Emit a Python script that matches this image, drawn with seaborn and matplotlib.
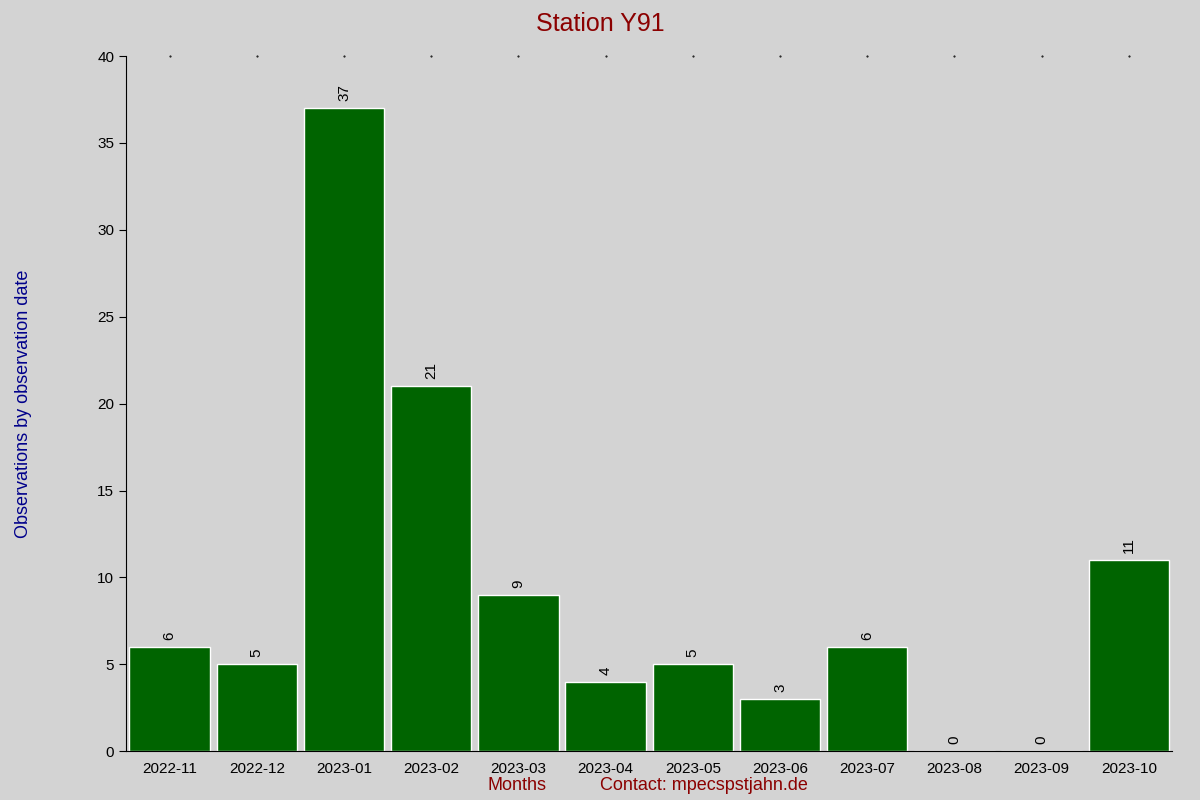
import matplotlib
matplotlib.use("Agg")
import matplotlib.pyplot as plt
import seaborn as sns
import pandas as pd

months = ["2022-11","2022-12","2023-01","2023-02","2023-03","2023-04","2023-05","2023-06","2023-07","2023-08","2023-09","2023-10"]
counts = [6,5,37,21,9,4,5,3,6,0,0,11]

sns.set_style("ticks")
plt.rcParams['font.family'] = ['Liberation Sans', 'DejaVu Sans']

fig = plt.figure(figsize=(12, 8), dpi=100, facecolor="#d3d3d3")
ax = fig.add_axes([0.105, 0.061, 0.872, 0.869])
ax.set_facecolor("#d3d3d3")
df = pd.DataFrame({"m": months, "c": counts})
sns.barplot(data=df, x="m", y="c", color="#006400", width=0.92, saturation=1, ax=ax)
ax.set_xlim(-0.5, len(months) - 0.5)
ax.set_ylim(0, 40)
ax.set_yticks(range(0, 41, 5))
for i, v in enumerate(counts):
    ax.text(i, v + 0.4, str(v), rotation=90, ha="center", va="bottom", fontsize=11, color="black")
for s in ["top", "right"]:
    ax.spines[s].set_visible(False)
ax.spines["left"].set_color("black")
ax.spines["bottom"].set_color("black")
ax.tick_params(axis="both", labelsize=11, colors="black", length=5, direction="out")
ax.tick_params(axis="x", length=0, pad=8)
ax.set_xlabel("")
ax.set_ylabel("Observations by observation date", color="#00008b", fontsize=13, labelpad=85)
ax.yaxis.set_label_coords(-0.09, 0.5)
fig.text(0.5, 0.97, "Station Y91", ha="center", va="center", color="#8b0000", fontsize=18)
fig.text(0.431, 0.018, "Months", ha="center", va="center", color="#8b0000", fontsize=13)
fig.text(0.587, 0.018, "Contact: mpecs\u0327pstjahn.de".replace("\u0327", ""), ha="center", va="center", color="#8b0000", fontsize=13)
for i in range(len(months)):
    ax.plot(i, 40, marker=".", markersize=1, color="black", clip_on=False)
fig.savefig("out.png", dpi=100, facecolor=fig.get_facecolor())
